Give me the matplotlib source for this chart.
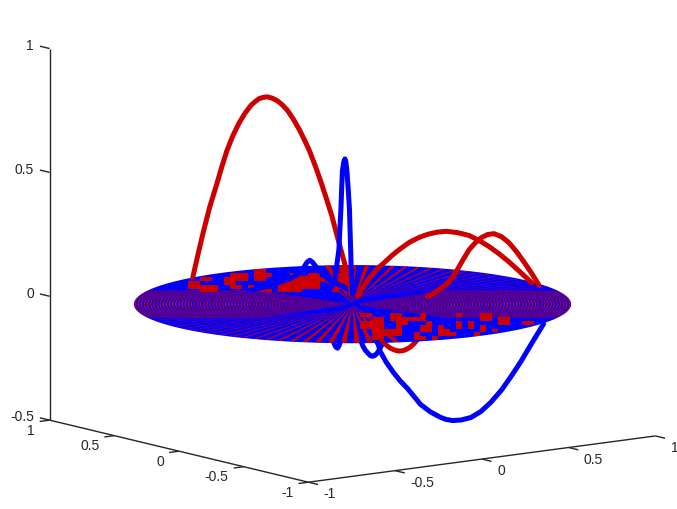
import numpy as np
import matplotlib
matplotlib.use('Agg')
import matplotlib.pyplot as plt
from mpl_toolkits.mplot3d import proj3d
from mpl_toolkits.mplot3d.art3d import Poly3DCollection

RED = '#cc0000'
BLUE = '#0000ff'
INK = '#262626'

# ---------------------------------------------------------------------------
# Curves: height z along a radius r of the disc, at angle theta (degrees)
# ---------------------------------------------------------------------------

arch_deg = 100.0
arch_r = [0.003, 0.035, 0.054, 0.08, 0.106, 0.131, 0.163, 0.196, 0.234, 0.272, 0.304, 0.337, 0.375,
          0.413, 0.446, 0.478, 0.51, 0.542, 0.567, 0.593, 0.619, 0.644, 0.683, 0.721, 0.76, 0.798,
          0.83, 0.862, 0.907, 0.946, 0.978, 1.014]
arch_z = [0.04, 0.126, 0.168, 0.226, 0.284, 0.342, 0.403, 0.464, 0.529, 0.588, 0.629, 0.668, 0.706,
          0.738, 0.757, 0.77, 0.777, 0.779, 0.774, 0.766, 0.751, 0.734, 0.697, 0.653, 0.598, 0.533,
          0.465, 0.392, 0.294, 0.193, 0.104, 0.0]

hump_deg = -3.0
hump_r = [0.03, 0.06, 0.096, 0.135, 0.179, 0.22, 0.262, 0.315, 0.372, 0.42, 0.47, 0.521,
          0.585, 0.648, 0.705, 0.758, 0.815, 0.868, 0.93, 0.995]
hump_z = [0.03, 0.065, 0.10, 0.13, 0.154, 0.178, 0.199, 0.222, 0.238, 0.246, 0.25, 0.249,
          0.238, 0.221, 0.195, 0.167, 0.132, 0.096, 0.05, 0.0]

knee_deg = -6.8
knee_r = [0.40, 0.43, 0.463, 0.49, 0.516, 0.537, 0.559, 0.59, 0.622, 0.655, 0.686, 0.72, 0.754,
          0.795, 0.834, 0.875, 0.913, 0.955, 0.993]
knee_z = [0.0, 0.01, 0.023, 0.036, 0.051, 0.072, 0.096, 0.135, 0.172, 0.197, 0.215, 0.225, 0.226,
          0.21, 0.183, 0.143, 0.10, 0.05, 0.0]

arc_deg = 125.0
arc_r = [0.0, 0.03, 0.06, 0.095, 0.13, 0.165, 0.20, 0.235, 0.27]
arc_z = [0.04, 0.056, 0.07, 0.081, 0.09, 0.094, 0.095, 0.094, 0.09]

dip_deg = -85.0
dip_r = [0.08, 0.15, 0.185, 0.214, 0.24, 0.264, 0.29, 0.32, 0.35, 0.376, 0.40, 0.425, 0.465, 0.51, 0.6]
dip_z = [-0.04, -0.09, -0.11, -0.128, -0.14, -0.147, -0.151, -0.152, -0.147, -0.138, -0.127,
         -0.111, -0.08, -0.04, 0.0]

spike_deg = 110.0
spike_r = [0.0, 0.004, 0.008, 0.0125, 0.017, 0.024, 0.031, 0.037, 0.042, 0.048, 0.056, 0.06,
           0.064, 0.07, 0.075, 0.086, 0.097, 0.11, 0.125]
spike_z = [0.04, 0.10, 0.161, 0.272, 0.383, 0.465, 0.536, 0.573, 0.583, 0.571, 0.534, 0.46,
           0.379, 0.295, 0.216, 0.155, 0.093, 0.066, 0.05]

bump_deg = 125.0
bump_r = [0.0, 0.05, 0.11, 0.16, 0.18, 0.195, 0.208, 0.22, 0.235, 0.26, 0.30, 0.36, 0.42, 0.5]
bump_z = [0.05, 0.07, 0.09, 0.125, 0.145, 0.16, 0.167, 0.16, 0.14, 0.11, 0.09, 0.07, 0.05, 0.03]

bowl_deg = -66.8
bowl_r = [0.08, 0.11, 0.137, 0.148, 0.18, 0.218, 0.255, 0.293, 0.33, 0.363, 0.415, 0.47, 0.50,
          0.535, 0.58, 0.632, 0.685, 0.739, 0.795, 0.847, 0.90, 0.954, 1.02]
bowl_z = [-0.08, -0.12, -0.151, -0.179, -0.22, -0.258, -0.29, -0.317, -0.348, -0.376, -0.402,
          -0.42, -0.426, -0.428, -0.422, -0.408, -0.38, -0.338, -0.285, -0.225, -0.16, -0.087, 0.0]

loop_deg = -75.0
loop_r = [0.02, 0.045, 0.062, 0.075, 0.092, 0.105, 0.116, 0.13, 0.145, 0.157, 0.169, 0.193,
          0.22, 0.252, 0.312]
loop_z = [-0.10, -0.138, -0.164, -0.178, -0.19, -0.197, -0.199, -0.195, -0.184, -0.17, -0.153,
          -0.115, -0.075, -0.036, -0.01]

nub_deg = 215.0
nub_r = [0.1, 0.14, 0.17, 0.195, 0.22, 0.245, 0.27, 0.30, 0.33, 0.4]
nub_z = [-0.05, -0.09, -0.12, -0.137, -0.145, -0.137, -0.12, -0.085, -0.05, 0.0]

# ---------------------------------------------------------------------------
# Disc: sign pattern, red over a blue base
# ---------------------------------------------------------------------------

disc_radius = 1.01

low_ray_deg = [168.0, 171.5, 175.0, 178.5, 182.0, 185.5, 189.0, 192.5, 196.0, 199.5, 203.0, 206.5,
               210.0, 213.5, 217.0, 220.5, 224.0, 227.5, 231.0, 234.5, 238.0, 241.5, 245.0]
low_ray_r0 = [0.75, 0.7, 0.65, 0.6, 0.5, 0.45, 0.4, 0.35, 0.3, 0.28, 0.25, 0.22,
              0.2, 0.18, 0.15, 0.12, 0.1, 0.08, 0.05, 0.05, 0.05, 0.05, 0.05]
low_ray_w = [0.4, 0.4, 0.4, 0.5, 0.5, 0.5, 0.6, 0.6, 0.7, 0.7, 0.8, 0.8,
             0.9, 1.0, 1.1, 1.2, 1.3, 1.4, 1.5, 1.5, 1.5, 1.5, 1.5]

high_ray_deg = [-10.0, -6.5, -3.0, 0.5, 4.0, 7.5, 11.0, 14.5, 18.0, 21.5, 25.0, 28.5,
                32.0, 35.5, 39.0, 42.5, 46.0, 49.5, 53.0, 56.5, 60.0, 63.5]
high_ray_r0 = [0.75, 0.7, 0.65, 0.6, 0.5, 0.45, 0.4, 0.35, 0.3, 0.28, 0.25, 0.22,
               0.2, 0.18, 0.15, 0.12, 0.1, 0.08, 0.05, 0.05, 0.05, 0.05]
high_ray_w = [0.4, 0.4, 0.4, 0.4, 0.5, 0.5, 0.5, 0.6, 0.6, 0.7, 0.7, 0.8,
              0.8, 0.9, 1.0, 1.1, 1.2, 1.3, 1.4, 1.5, 1.5, 1.5]

# rings at both tips of the ellipse, one character per ring, from r = 0.03 out
tip_rings = ('brbrbrbrbrbrbrbrbrbrbrbrbrbrbrbrbrbrbrbrbrbrbrbrbrbrbrbrbrbrbrbrbrbr'
             'brbrbrbrbrbrbrbrbrbrbrbrbrbrbrbrbrbrbrbrbrbrbrbrbrbrbrbrbrbrbrbrbrbr')
tip_left_deg = 143.3
tip_right_deg = -36.7
tip_half_width = 0.36

# blocks on a grid aligned with the long and short axes of the ellipse,
# rows from the top of the picture down, columns left to right
long_axis_deg = -36.7
upper_u0, upper_v0 = -0.815, 1.01
upper_blocks = ['.............................',
                '.............rr..............',
                '.........rrr.rrr...rr.rr..rrr',
                '....rr..rrrr.rr....rrrrr..rrr',
                '..rr....rr......rrrrrrrr..rrr',
                '..rrrrr..rr.r....rrrrrrr..rrr',
                '....rrr.......rr.rrrr.....r..']

lower_u0, lower_v0 = 0.035, -0.227
lower_blocks = ['rr...rr...r.....r...rr..........',
                '..rr.rrrrrr.........rr.rr.......',
                'rrrr..rr...r....r.r....rr..rr.r.',
                'rrrr..r...rr.r..r.r.r...........',
                '..rrrrr...rr.rr.....r.r..rrr....',
                '..rrrrr..r...rrr...rr.r.........',
                '..rr.....rr.r...r..r............',
                '.........rr.....................']

block_du = 0.0277
block_dv = 0.101

# ---------------------------------------------------------------------------
# Axes ticks
# ---------------------------------------------------------------------------

x_ticks = [-1, -0.5, 0, 0.5, 1]
y_ticks = [-1, -0.5, 0, 0.5, 1]
z_ticks = [-0.5, 0, 0.5, 1]
x_labels = ['-1', '-0.5', '0', '0.5', '1']
y_labels = ['-1', '-0.5', '0', '0.5', '1']
z_labels = ['-0.5', '0', '0.5', '1']


def polar_cell(r0, r1, deg0, deg1, n=4):
  """Annular sector as a flat polygon at z = 0."""
  t = np.radians(np.linspace(deg0, deg1, n))
  rr = np.r_[np.full(n, r0), np.full(n, r1)]
  tt = np.r_[t, t[::-1]]
  return list(zip(rr * np.cos(tt), rr * np.sin(tt), np.zeros(2 * n)))


def block_cells(table, u0, v0):
  """Red cells of a block table, kept only where they fall on the disc."""
  t = np.radians(long_axis_deg)
  eu = np.array([np.cos(t), np.sin(t)])
  ev = np.array([-np.sin(t), np.cos(t)])
  cells = []
  for row, line in enumerate(table):
    for col, ch in enumerate(line):
      if ch != 'r':
        continue
      u = u0 + col * block_du
      v = v0 - row * block_dv
      corners = [u * eu + v * ev, (u + block_du) * eu + v * ev,
                 (u + block_du) * eu + (v - block_dv) * ev, u * eu + (v - block_dv) * ev]
      if max(np.hypot(*c) for c in corners) <= disc_radius + 0.02:
        cells.append([(c[0], c[1], 0.0) for c in corners])
  return cells


def add_cells(ax, cells, color, zorder):
  poly = Poly3DCollection(cells, facecolors=color, edgecolors='none', zorder=zorder)
  ax.add_collection3d(poly)


def radial(ax, deg, r, z, color, zorder, lw=3.6):
  t = np.radians(deg)
  r = np.asarray(r)
  ax.plot(r * np.cos(t), r * np.sin(t), z, color=color, lw=lw, zorder=zorder,
          solid_capstyle='round', solid_joinstyle='round')


fig = plt.figure(figsize=(6.77, 5.10), dpi=100)
ax = fig.add_axes([-161 / 677, -246.75 / 510, 1000 / 677, 1000 / 510],
                  projection='3d', proj_type='ortho', computed_zorder=False)
ax.set_axis_off()
ax.set_xlim(-1, 1, view_margin=0)
ax.set_ylim(-1, 1, view_margin=0)
ax.set_zlim(-0.5, 1, view_margin=0)
ax.set_box_aspect((2, 2, 1.745), zoom=0.6983)
ax.view_init(elev=10.3, azim=-126.7, roll=0)

# curves below the disc
radial(ax, bowl_deg, bowl_r, bowl_z, BLUE, 2)
radial(ax, loop_deg, loop_r, loop_z, BLUE, 2)
radial(ax, dip_deg, dip_r, dip_z, RED, 2)
radial(ax, nub_deg, nub_r, nub_z, BLUE, 2)

# disc
add_cells(ax, [polar_cell(0.0, disc_radius, 0.0, 360.0, n=181)], BLUE, 3)

ring_step = 0.0072
ring_cells = []
for i, ch in enumerate(tip_rings):
  if ch == 'r':
    r0 = 0.03 + i * ring_step
    half = np.degrees(np.arcsin(min(tip_half_width / (r0 + ring_step), 1.0)))
    half = min(half, 40.0)
    for centre in (tip_left_deg, tip_right_deg):
      ring_cells.append(polar_cell(r0, r0 + ring_step * 0.8, centre - half, centre + half, n=12))
add_cells(ax, ring_cells, RED, 4)

ray_cells = [polar_cell(r0, 1.0, d - w / 2, d + w / 2, n=2)
             for d, r0, w in zip(low_ray_deg + high_ray_deg, low_ray_r0 + high_ray_r0,
                                 low_ray_w + high_ray_w)]
add_cells(ax, ray_cells, RED, 5)

add_cells(ax, block_cells(upper_blocks, upper_u0, upper_v0), RED, 6)
add_cells(ax, block_cells(lower_blocks, lower_u0, lower_v0), RED, 6)

# curves above the disc
radial(ax, arc_deg, arc_r, arc_z, RED, 7, lw=3.0)
radial(ax, bump_deg, bump_r, bump_z, BLUE, 8)
radial(ax, arch_deg, arch_r, arch_z, RED, 9)
radial(ax, spike_deg, spike_r, spike_z, BLUE, 10)
radial(ax, hump_deg, hump_r, hump_z, RED, 11)
radial(ax, knee_deg, knee_r, knee_z, RED, 11)

# box edges and ticks
line_kw = dict(color=INK, lw=1.0, zorder=1, solid_capstyle='butt')
text_kw = dict(color=INK, fontsize=10, family='Liberation Sans', transform=ax.transData)


def label(x, y, z, s, ha):
  px, py, _ = proj3d.proj_transform(x, y, z, ax.get_proj())
  ax.text2D(px, py, s, ha=ha, va='center', **text_kw)


ax.plot([-1, 1], [-1, -1], [-0.5, -0.5], **line_kw)
ax.plot([-1, -1], [-1, 1], [-0.5, -0.5], **line_kw)
ax.plot([-1, -1], [1, 1], [-0.5, 1], **line_kw)
for v, s in zip(x_ticks, x_labels):
  ax.plot([v, v], [-1, -1.075], [-0.5, -0.5], **line_kw)
  label(v, -1.118, -0.53, s, 'left')
for v, s in zip(y_ticks, y_labels):
  ax.plot([-1, -1.057], [v, v], [-0.5, -0.5], **line_kw)
  label(-1.086, v, -0.53, s, 'right')
for v, s in zip(z_ticks, z_labels):
  ax.plot([-1, -1], [1, 1.075], [v, v], **line_kw)
  label(-1, 1.12, v, s, 'right')

fig.savefig('out.png', dpi=100)
plt.close(fig)
